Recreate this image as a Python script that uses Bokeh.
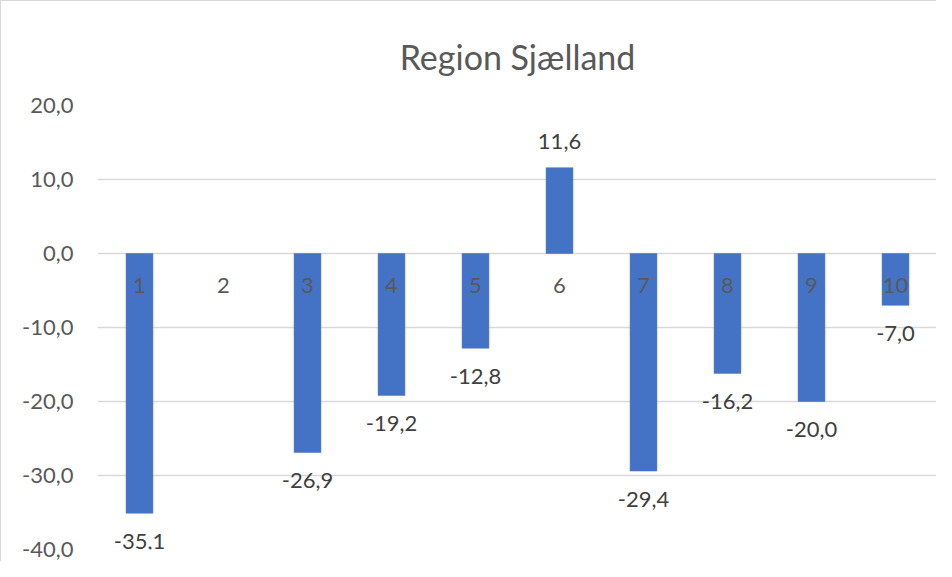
import math
from bokeh.plotting import figure
from bokeh.models import Range1d, FixedTicker, ColumnDataSource
from bokeh.core.properties import value
from bokeh.embed import file_html
from bokeh.resources import INLINE

# ---- data ----
title_text = "Region Sjælland"
categories = [1, 2, 3, 4, 5, 6, 7, 8, 9, 10]
category_labels = ["1", "2", "3", "4", "5", "6", "7", "8", "9", "10"]
values = [-35.1, float("nan"), -26.9, -19.2, -12.8, 11.6, -29.4, -16.2, -20.0, -7.0]
y_ticks = [-40, -30, -20, -10, 0, 10, 20]
y_tick_labels = ["-40,0", "-30,0", "-20,0", "-10,0", "0,0", "10,0", "20,0"]

FONT = "Lato"
BAR = "#4472C4"
GRID = "#D9D9D9"
TXT = "#595959"
LBL = "#404040"

p = figure(width=936, height=561, output_backend="svg", toolbar_location=None,
           x_range=Range1d(0.5, 10.5), y_range=Range1d(-40, 20),
           min_border_left=96, min_border_right=0, min_border_top=104, min_border_bottom=13)
p.styles = {"border-left": "1px solid #D9D9D9", "border-top": "1px solid #D9D9D9"}

p.title.text = title_text
p.title.align = "center"
p.title.text_font = FONT
p.title.text_font_size = "34px"
p.title.text_font_style = "normal"
p.title.text_color = TXT
p.title.standoff = 57

p.outline_line_color = None
p.background_fill_color = "white"
p.border_fill_color = "white"

# axes
p.xaxis.visible = False
p.xgrid.visible = False
p.yaxis.ticker = FixedTicker(ticks=y_ticks)
p.yaxis.major_label_overrides = {t: l for t, l in zip(y_ticks, y_tick_labels)}
p.yaxis.axis_line_color = None
p.yaxis.major_tick_line_color = None
p.yaxis.minor_tick_line_color = None
p.yaxis.major_label_text_font = FONT
p.yaxis.major_label_text_font_size = "22px"
p.yaxis.major_label_text_color = TXT
p.yaxis.major_label_standoff = 18
p.ygrid.ticker = FixedTicker(ticks=y_ticks)
p.ygrid.grid_line_color = GRID
p.ygrid.grid_line_width = 1.5

src = ColumnDataSource(dict(x=categories, top=values))
p.vbar(x="x", top="top", bottom=0, width=0.32, source=src,
       fill_color=BAR, line_color=BAR, line_width=0.5)

# category labels at the zero line
cat_src = ColumnDataSource(dict(x=categories, y=[0] * len(categories), t=category_labels))
p.text(x="x", y="y", text="t", source=cat_src, y_offset=32,
       text_align="center", text_baseline="middle",
       text_font=value(FONT), text_font_size="22px", text_color=TXT)

# data labels
lx, ly, lt, loff = [], [], [], []
for c, v in zip(categories, values):
    if v is None or math.isnan(v):
        continue
    lx.append(c)
    ly.append(v)
    lt.append(f"{v:.1f}".replace(".", ","))
    loff.append(28 if v < 0 else -26)
lab_src = ColumnDataSource(dict(x=lx, y=ly, t=lt, off=loff))
p.text(x="x", y="y", text="t", source=lab_src, y_offset="off",
       text_align="center", text_baseline="middle",
       text_font=value(FONT), text_font_size="22px", text_color=LBL)

open("out.html", "w").write(file_html(p, INLINE))
